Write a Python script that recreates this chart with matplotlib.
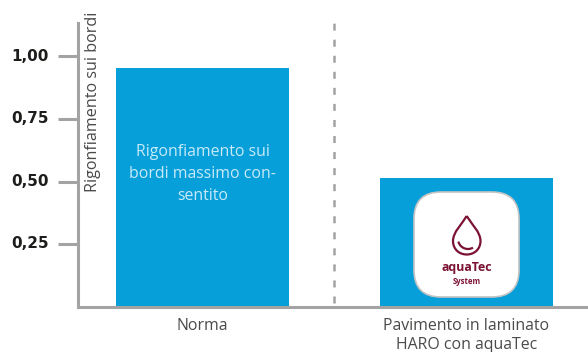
import numpy as np
import matplotlib
matplotlib.use("Agg")
import matplotlib.pyplot as plt
from matplotlib.patches import FancyBboxPatch, PathPatch, Arc
from matplotlib.path import Path
from matplotlib.transforms import ScaledTranslation

categories = ["Norma", "Pavimento in laminato\nHARO con aquaTec"]
values = [0.954, 0.514]
y_ticks = [0.25, 0.50, 0.75, 1.00]
y_tick_labels = ["0,25", "0,50", "0,75", "1,00"]
y_title = "Rigonfiamento sui bordi"
bar_note = "Rigonfiamento sui\nbordi massimo con-\nsentito"

W, H = 588, 352
GREY = "#a3a3a3"
BLUE = "#069fd9"
WINE = "#7b1233"
TEXT = "#4a4a49"
plt.rcParams["font.family"] = ["Open Sans", "DejaVu Sans"]

fig = plt.figure(figsize=(W / 100, H / 100), dpi=100)
ax = fig.add_axes([78 / W, 1 - 306.5 / H, (W - 78) / W, 283.5 / H])

x = np.arange(len(categories))
ax.bar(x, values, width=0.655, color=BLUE, zorder=2)
ax.set_xlim(-0.4716, 1.46)
ax.set_ylim(0, 1.134)

# separator between the two bars
ax.axvline(0.497, ymin=0.012, ymax=1, color=GREY, lw=1.8, ls=(0, (2.8, 3.62)), zorder=1)

for side in ["top", "right"]:
    ax.spines[side].set_visible(False)
for side in ["left", "bottom"]:
    ax.spines[side].set_color(GREY)
    ax.spines[side].set_linewidth(2.2)

ax.set_yticks(y_ticks)
ax.set_yticklabels(y_tick_labels, fontsize=11, fontweight="bold", color="#1d1d1b", family="DejaVu Sans")
ax.tick_params(axis="y", length=14.5, width=2.2, color=GREY, pad=6.5)
for lab in ax.get_yticklabels():
    lab.set_transform(lab.get_transform() + ScaledTranslation(0, 1.3 / 72, fig.dpi_scale_trans))
ax.set_xticks(x)
ax.set_xticklabels(categories, fontsize=11.4, color=TEXT, linespacing=1.3)
ax.tick_params(axis="x", length=0, pad=8)

ax.text(0, 0.53, bar_note, color="#c8eaf8", fontsize=11.4, ha="center", va="center",
        linespacing=1.54, zorder=3)

# overlay in pixels for the badge and the rotated title
ov = fig.add_axes([0, 0, 1, 1], facecolor="none")
ov.set_xlim(0, W)
ov.set_ylim(H, 0)
ov.axis("off")

ov.text(93, 192, y_title, rotation=90, fontsize=11.6, color=TEXT, ha="left", va="center",
        rotation_mode="anchor")

badge = FancyBboxPatch((436, 214), 61, 61, boxstyle="round,pad=22,rounding_size=27",
                       fc="white", ec="#c4c4c4", lw=1.2)
ov.add_patch(badge)

drop = Path([(466.7, 216), (462, 224), (453, 232), (453, 241), (453, 249), (459, 254.5), (466.7, 254.5),
             (474.5, 254.5), (480.5, 249), (480.5, 241), (480.5, 232), (471.5, 224), (466.7, 216)],
            [Path.MOVETO] + [Path.CURVE4] * 12)
ov.add_patch(PathPatch(drop, fc="none", ec=WINE, lw=1.6))
# inner crescent, y axis is flipped here
ov.add_patch(Arc((468, 239), 20, 20, theta1=60, theta2=165, ec=WINE, lw=1.6))
ov.text(466.7, 268, "aquaTec", color=WINE, fontsize=8.9, fontweight="bold", ha="center", va="center")
ov.text(466.7, 281, "System", color=WINE, fontsize=5.6, fontweight="bold", ha="center", va="center")

fig.savefig("out.png", dpi=100)
